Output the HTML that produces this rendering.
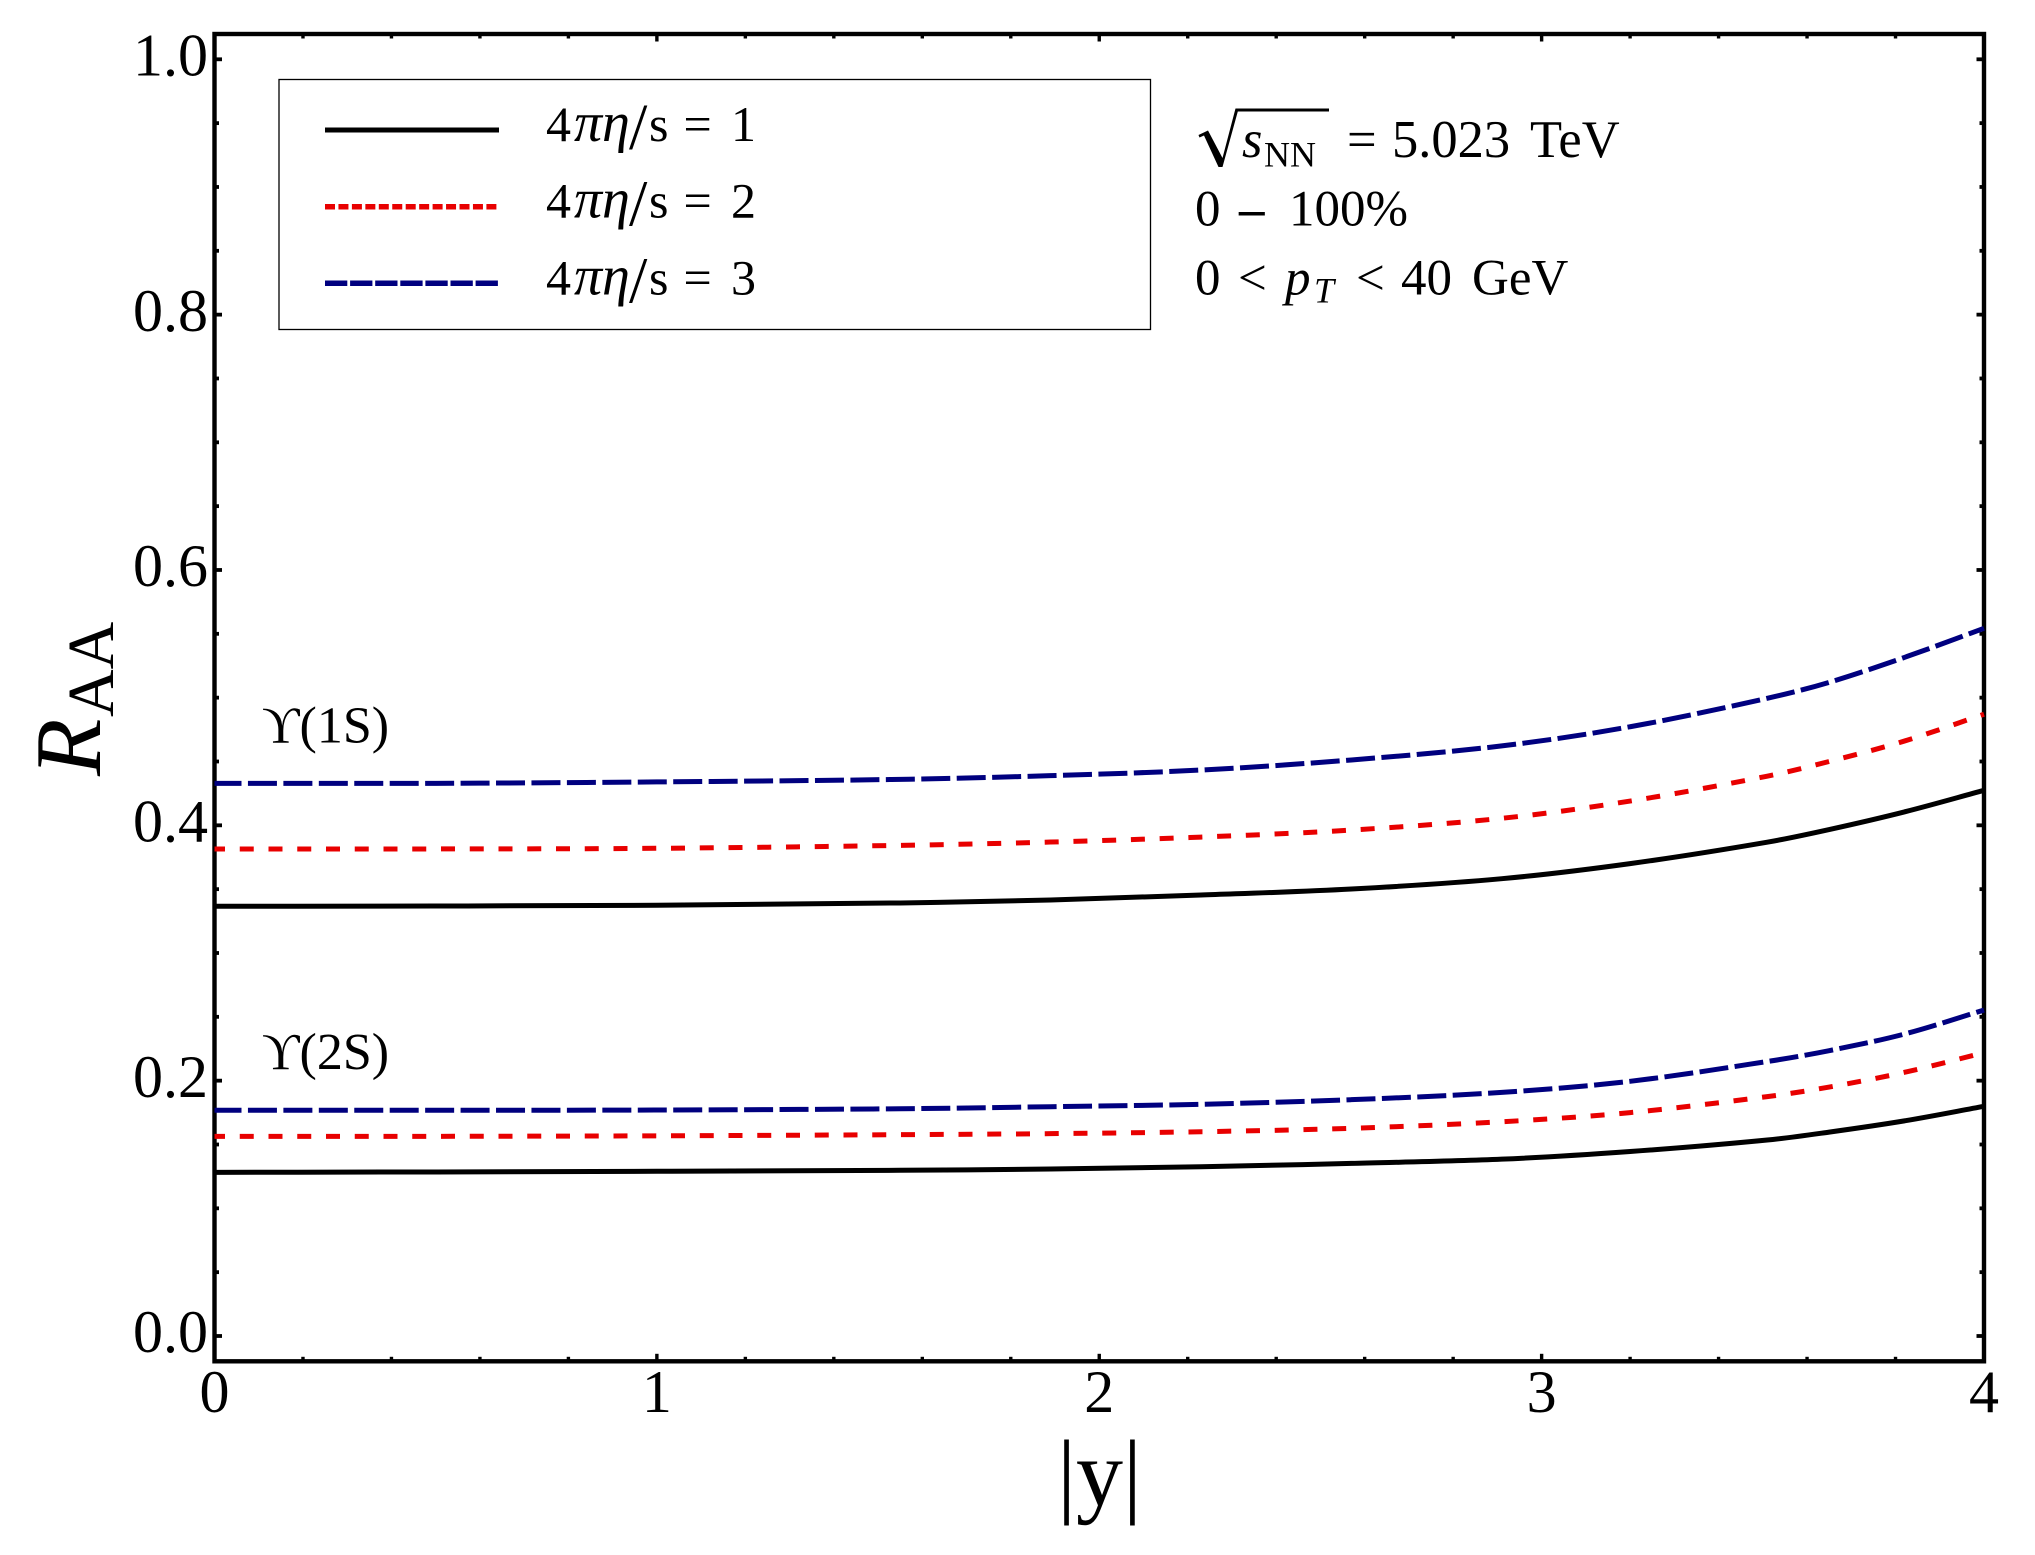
<!DOCTYPE html>
<html lang="en">
<head>
<meta charset="utf-8">
<title>RAA vs rapidity</title>
<style>
html,body{margin:0;padding:0;background:#fff;width:2035px;height:1555px;overflow:hidden}
svg{display:block}
text{font-family:"Liberation Serif","DejaVu Serif",serif;fill:#000}
.it{font-style:italic}
</style>
</head>
<body>
<svg id="chart" xmlns="http://www.w3.org/2000/svg" width="2035" height="1555" viewBox="0 0 2035 1555">
  <rect x="0" y="0" width="2035" height="1555" fill="#fff"/>
  <g id="ticks"></g>
  <g id="tick-labels"></g>
  <rect x="214.5" y="34" width="1769.5" height="1327.3" fill="none" stroke="#000" stroke-width="4.4"/>
  <g id="curves"></g>

  <g>
    <text transform="translate(100,776) rotate(-90)" font-size="94" class="it">R</text>
    <text transform="translate(113,717) rotate(-90)" font-size="66">AA</text>
  </g>
  <text x="1099.5" y="1505" font-size="94" text-anchor="middle">|y|</text>

  <g>
    <rect x="279" y="79.5" width="871.5" height="250" fill="#fff" stroke="#000" stroke-width="1.3"/>
    <g>
      <line x1="325" y1="130" x2="499" y2="130" stroke="#000" stroke-width="5"/>
      <text y="141" font-size="50"><tspan x="546">4</tspan><tspan x="574" class="it" font-size="56">πη</tspan><tspan x="629" dy="8" font-size="66">/</tspan><tspan x="649" dy="-8">s</tspan><tspan x="683.5">=</tspan><tspan x="731">1</tspan></text>
    </g>
    <g>
      <line x1="325" y1="206.7" x2="497.5" y2="206.7" stroke="#e80000" stroke-width="5.5" stroke-dasharray="10 3.45"/>
      <text y="217.7" font-size="50"><tspan x="546">4</tspan><tspan x="574" class="it" font-size="56">πη</tspan><tspan x="629" dy="8" font-size="66">/</tspan><tspan x="649" dy="-8">s</tspan><tspan x="683.5">=</tspan><tspan x="731">2</tspan></text>
    </g>
    <g>
      <line x1="325" y1="283.3" x2="499" y2="283.3" stroke="#00007f" stroke-width="5.5" stroke-dasharray="22.3 2.8"/>
      <text y="294.7" font-size="50"><tspan x="546">4</tspan><tspan x="574" class="it" font-size="56">πη</tspan><tspan x="629" dy="8" font-size="66">/</tspan><tspan x="649" dy="-8">s</tspan><tspan x="683.5">=</tspan><tspan x="731">3</tspan></text>
    </g>
  </g>

  <g>
    <path d="M1198.5 135 L1208 130.5 L1222.5 158 L1235.5 108.5 L1329 108.5 L1329 111.5 L1237.8 111.5 L1222.5 167 L1218.5 167 L1204 135.5 L1199.5 137.5 Z" fill="#000"/>
    <text y="157" font-size="52.5"><tspan x="1242" class="it">s</tspan><tspan x="1264" y="166.7" font-size="36">NN</tspan><tspan x="1347" y="157">=</tspan><tspan x="1392">5.023</tspan><tspan x="1530">TeV</tspan></text>
    <text y="225.7" font-size="51"><tspan x="1195">0</tspan><tspan x="1239" font-weight="bold">–</tspan><tspan x="1289">100%</tspan></text>
    <text y="294.3" font-size="51"><tspan x="1195">0</tspan><tspan x="1238">&lt;</tspan><tspan x="1285" class="it">p</tspan><tspan x="1314" y="302.7" font-size="36" class="it">T</tspan><tspan x="1356" y="294.3">&lt;</tspan><tspan x="1401">40</tspan><tspan x="1472">GeV</tspan></text>
  </g>

  <text x="262" y="742.7" font-size="52">ϒ(1S)</text>
  <text x="262" y="1069" font-size="52">ϒ(2S)</text>
</svg>
<script>
// Axis tick data
const xMajorTicks = [0, 1, 2, 3, 4];
const xTickLabels = ["0", "1", "2", "3", "4"];
const xMinorTicks = [0.2, 0.4, 0.6, 0.8, 1.2, 1.4, 1.6, 1.8, 2.2, 2.4, 2.6, 2.8, 3.2, 3.4, 3.6, 3.8];
const yMajorTicks = [0, 0.2, 0.4, 0.6, 0.8, 1.0];
const yTickLabels = ["0.0", "0.2", "0.4", "0.6", "0.8", "1.0"];
const yMinorTicks = [0.05, 0.1, 0.15, 0.25, 0.3, 0.35, 0.45, 0.5, 0.55, 0.65, 0.7, 0.75, 0.85, 0.9, 0.95];

// Series values
const rapidity = [0, 0.5, 1.0, 1.55, 1.89, 2.23, 2.57, 2.91, 3.2, 3.51, 3.65, 3.82, 4.0];
const upsilon1sEta1 = [0.3366, 0.3368, 0.3374, 0.3392, 0.3415, 0.3454, 0.3501, 0.3582, 0.3700, 0.3868, 0.3967, 0.4105, 0.4274];
const upsilon1sEta2 = [0.3815, 0.3815, 0.3820, 0.3843, 0.3869, 0.3908, 0.3963, 0.4055, 0.4190, 0.4385, 0.4500, 0.4660, 0.4870];
const upsilon1sEta3 = [0.4329, 0.4329, 0.4340, 0.4360, 0.4389, 0.4433, 0.4512, 0.4622, 0.4772, 0.4995, 0.5120, 0.5315, 0.5543];
const upsilon2sEta1 = [0.1282, 0.1285, 0.1290, 0.1298, 0.1308, 0.1326, 0.1352, 0.1385, 0.1445, 0.1535, 0.1597, 0.1685, 0.1799];
const upsilon2sEta2 = [0.1564, 0.1564, 0.1568, 0.1577, 0.1585, 0.1600, 0.1627, 0.1678, 0.1750, 0.1875, 0.1950, 0.2065, 0.2219];
const upsilon2sEta3 = [0.1768, 0.1768, 0.1770, 0.1780, 0.1796, 0.1815, 0.1851, 0.1908, 0.1995, 0.2150, 0.2235, 0.2365, 0.2553];

const SVG_NS = "http://www.w3.org/2000/svg";
const plot = { left: 214.5, right: 1984, y0: 1336, y1: 59.3, top: 34, bottom: 1361.3 };
function xScale(v) { return plot.left + (v / 4) * (plot.right - plot.left); }
function yScale(v) { return plot.y0 + v * (plot.y1 - plot.y0); }

function make(tag, parent, attrs) {
  const el = document.createElementNS(SVG_NS, tag);
  for (const k in attrs) el.setAttribute(k, attrs[k]);
  parent.appendChild(el);
  return el;
}

const tickGroup = document.getElementById("ticks");
const labelGroup = document.getElementById("tick-labels");

function xTick(v, len, w) {
  const x = xScale(v);
  const bottomTick = make("line", tickGroup, { x1: x, x2: x, y1: plot.bottom, y2: plot.bottom - len, stroke: "#000", "stroke-width": w });
  
  
  const topTick = make("line", tickGroup, { x1: x, x2: x, y1: plot.top, y2: plot.top + len, stroke: "#000", "stroke-width": w });
  
  
}
function yTick(v, len, w) {
  const y = yScale(v);
  const leftTick = make("line", tickGroup, { x1: plot.left, x2: plot.left + len, y1: y, y2: y, stroke: "#000", "stroke-width": w });
  
  
  const rightTick = make("line", tickGroup, { x1: plot.right, x2: plot.right - len, y1: y, y2: y, stroke: "#000", "stroke-width": w });
  
  
}
xMajorTicks.forEach(function (v) { xTick(v, 7.5, 3.4); });
xMinorTicks.forEach(function (v) { xTick(v, 4.5, 3.4); });
yMajorTicks.forEach(function (v) { yTick(v, 7.5, 3.8); });
yMinorTicks.forEach(function (v) { yTick(v, 4.5, 3.8); });

xMajorTicks.forEach(function (v, i) {
  const t = make("text", labelGroup, { x: xScale(v), y: 1412, "font-size": 60, "text-anchor": "middle" });
  t.textContent = xTickLabels[i];
  
  
});
yMajorTicks.forEach(function (v, i) {
  const t = make("text", labelGroup, { x: 208, y: yScale(v) + 16.2, "font-size": 60, "text-anchor": "end" });
  t.textContent = yTickLabels[i];
  
  
});

// Smooth cubic Hermite path through the data points
function curvePath(xs, ys) {
  const px = xs.map(xScale), py = ys.map(yScale), n = px.length;
  const slope = [];
  for (let i = 0; i < n; i++) {
    if (i === 0) slope.push((py[1] - py[0]) / (px[1] - px[0]));
    else if (i === n - 1) slope.push((py[n - 1] - py[n - 2]) / (px[n - 1] - px[n - 2]));
    else slope.push((py[i + 1] - py[i - 1]) / (px[i + 1] - px[i - 1]));
  }
  let d = "M" + px[0].toFixed(2) + " " + py[0].toFixed(2);
  for (let i = 0; i < n - 1; i++) {
    const h = (px[i + 1] - px[i]) / 3;
    d += " C" + (px[i] + h).toFixed(2) + " " + (py[i] + slope[i] * h).toFixed(2) + " " +
         (px[i + 1] - h).toFixed(2) + " " + (py[i + 1] - slope[i + 1] * h).toFixed(2) + " " +
         px[i + 1].toFixed(2) + " " + py[i + 1].toFixed(2);
  }
  return d;
}

const curveGroup = document.getElementById("curves");
function drawCurve(values, colour, dash, offset, name) {
  const p = make("path", curveGroup, { d: curvePath(rapidity, values), fill: "none", stroke: colour, "stroke-width": 5, "stroke-dasharray": dash, "stroke-dashoffset": offset });
  
  
}
drawCurve(upsilon1sEta1, "#000", "none", 0, "curve-1s-eta-1");
drawCurve(upsilon1sEta2, "#e80000", "14 14.75", 3.5, "curve-1s-eta-2");
drawCurve(upsilon1sEta3, "#00007f", "29 6.44", 2, "curve-1s-eta-3");
drawCurve(upsilon2sEta1, "#000", "none", 0, "curve-2s-eta-1");
drawCurve(upsilon2sEta2, "#e80000", "14 14.75", 3.5, "curve-2s-eta-2");
drawCurve(upsilon2sEta3, "#00007f", "29 6.44", 2, "curve-2s-eta-3");
</script>
</body>
</html>
